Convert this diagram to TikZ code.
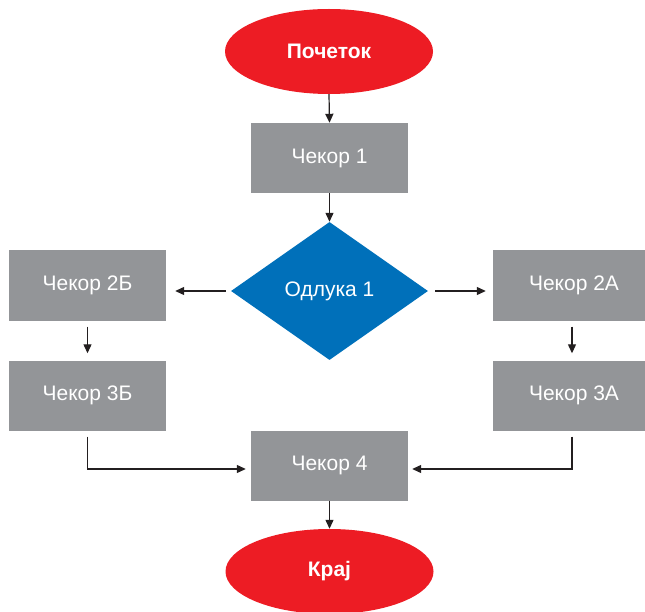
\documentclass[tikz,border=0pt]{standalone}
\usepackage{fontspec}
\setmainfont{Liberation Sans}
\usetikzlibrary{shapes.geometric,arrows.meta}
\definecolor{fcred}{HTML}{ED1C24}
\definecolor{fcgray}{HTML}{939598}
\definecolor{fcblue}{HTML}{0070BA}
\definecolor{fcline}{HTML}{231F20}
\begin{document}
\begin{tikzpicture}[x=1pt,y=-1pt,
  terminal/.style={ellipse,fill=fcred,text=white,inner sep=0pt,minimum width=208pt,minimum height=85pt,font=\fontsize{21}{25}\selectfont\bfseries},
  stepbox/.style={rectangle,fill=fcgray,text=white,inner sep=0pt,minimum width=157pt,minimum height=70pt,font=\fontsize{21}{25}\selectfont},
  decision/.style={diamond,aspect=1.43,fill=fcblue,text=white,inner sep=0pt,minimum width=197pt,minimum height=138pt,font=\fontsize{21}{25}\selectfont},
  conn/.style={draw=fcline,line width=1.2pt,-{Triangle[length=9pt,width=8pt]}}]
\useasboundingbox (0,0) rectangle (645,612);
\node[terminal] (start) at (329,51.5) {Почеток};
\node[stepbox] (s1) at (329.5,158) {Чекор 1};
\node[decision] (d1) at (329.5,291) {Одлука 1};
\node[stepbox] (b2) at (87.5,285.5) {Чекор 2Б};
\node[stepbox,minimum width=162pt] (a2) at (574,285.5) {Чекор 2А};
\node[stepbox] (b3) at (87.5,395.5) {Чекор 3Б};
\node[stepbox,minimum width=162pt] (a3) at (574,395.5) {Чекор 3А};
\node[stepbox] (s4) at (329.5,465.5) {Чекор 4};
\node[terminal] (end) at (329.5,571.5) {Крај};
\draw[conn] (start.south) -- (s1.north);
\draw[conn] (s1.south) -- (d1.north);
\draw[conn,shorten <=5pt,shorten >=9pt] (d1.west) -- (b2.east |- d1.west);
\draw[conn,shorten <=7pt,shorten >=7pt] (d1.east) -- (a2.west |- d1.east);
\draw[conn,shorten <=6pt,shorten >=7pt] (b2.south) -- (b3.north);
\draw[conn,shorten <=6pt,shorten >=7pt] (a2.south -| 572,0) -- (a3.north -| 572,0);
\draw[conn,shorten >=5pt] ([yshift=-6pt]b3.south) |- ([yshift=-3.5pt]s4.west);
\draw[conn,shorten >=4pt] ([yshift=-6pt]a3.south -| 572,0) |- ([yshift=-3.5pt]s4.east);
\draw[conn] (s4.south) -- (end.north);
\end{tikzpicture}
\end{document}
